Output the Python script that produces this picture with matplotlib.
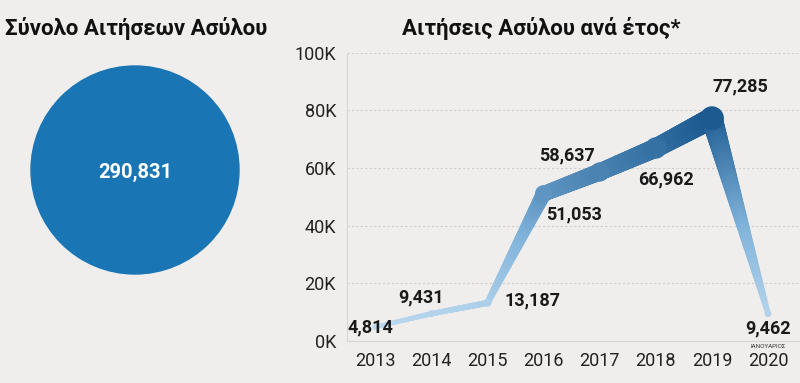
import numpy as np
import matplotlib
matplotlib.use('Agg')
import matplotlib.pyplot as plt
from matplotlib.collections import LineCollection
from matplotlib.colors import LinearSegmentedColormap
from matplotlib.patches import Circle

plt.rcParams['font.family'] = ['Roboto', 'DejaVu Sans']

# data
years = ['2013', '2014', '2015', '2016', '2017', '2018', '2019', '2020']
values = [4814, 9431, 13187, 51053, 58637, 66962, 77285, 9462]
total = 290831
yticks = [0, 20000, 40000, 60000, 80000, 100000]
ytick_labels = ['0K', '20K', '40K', '60K', '80K', '100K']

bg = '#efeeec'
fig = plt.figure(figsize=(8, 3.83), dpi=100, facecolor=bg)

# titles
fig.text(0.006, 0.925, 'Σύνολο Αιτήσεων Ασύλου', fontsize=16, fontweight='bold',
         color='#111111', ha='left', va='center')
fig.text(0.676, 0.925, 'Αιτήσεις Ασύλου ανά έτος*', fontsize=16, fontweight='bold',
         color='#111111', ha='center', va='center')

# total circle
axc = fig.add_axes([0.0, 0.0, 0.34, 1.0])
axc.set_xlim(0, 272)
axc.set_ylim(383, 0)
axc.set_aspect('equal')
axc.axis('off')
axc.add_patch(Circle((135, 170), 104, color='#1a75b4'))
axc.text(135, 172, f'{total:,}', color='white', fontsize=14.5, fontweight='bold',
         ha='center', va='center')

# yearly line
ax = fig.add_axes([0.434, 0.110, 0.566, 0.752], facecolor=bg)
x = np.arange(len(values))
v = np.array(values, dtype=float)
cmap = LinearSegmentedColormap.from_list('b', ['#c4def1', '#7fb2da', '#1c5a90'])
vmax = v.max()

segs, lws, cols = [], [], []
for i in range(len(v) - 1):
    t = np.linspace(0, 1, 60)
    xs = x[i] + t
    ys = v[i] + t * (v[i + 1] - v[i])
    for j in range(len(t) - 1):
        ym = (ys[j] + ys[j + 1]) / 2
        segs.append([(xs[j], ys[j]), (xs[j + 1], ys[j + 1])])
        lws.append((3 + 18.5 * ym / vmax) * 0.72)
        cols.append(cmap(ym / vmax))
lc = LineCollection(segs, linewidths=lws, colors=cols, capstyle='round', zorder=3)
ax.add_collection(lc)
ax.scatter(x, v, s=[((4.5 + 19.5 * a / vmax) * 0.72) ** 2 for a in v],
           c=[cmap(a / vmax) for a in v], zorder=4, linewidths=0)

# value labels
offsets = [(-5, 0, 'center', 'center'), (-10, 16, 'center', 'center'),
           (17, 2, 'left', 'center'), (2, -21, 'left', 'center'),
           (-33, 17, 'center', 'center'), (10, -31, 'center', 'center'),
           (28, 32, 'center', 'center'), (0, -15, 'center', 'center')]
for xi, vi, (dx, dy, ha, va) in zip(x, values, offsets):
    ax.annotate(f'{vi:,}', (xi, vi), xytext=(dx * 0.72, dy * 0.72),
                textcoords='offset points', ha=ha, va=va, fontsize=13,
                fontweight='bold', color='#1a1a1a', zorder=5)
ax.annotate('ΙΑΝΟΥΑΡΙΟΣ', (x[-1], 0), xytext=(0, -6 * 0.72), textcoords='offset points',
            ha='center', va='center', fontsize=4.5, color='#333333')

ax.set_xlim(-0.5, 7.57)
ax.set_ylim(0, 100000)
ax.set_xticks(x)
ax.set_xticklabels(years)
ax.set_yticks(yticks)
ax.set_yticklabels(ytick_labels)
ax.tick_params(axis='both', length=0, labelsize=13, colors='#222222')
ax.tick_params(axis='x', pad=8)
ax.tick_params(axis='y', pad=8)
ax.grid(axis='y', linestyle=(0, (2, 2)), color='#cfcfcf', linewidth=0.8)
ax.set_axisbelow(True)
for s in ['top', 'right']:
    ax.spines[s].set_visible(False)
ax.spines['left'].set_color('#d6d6d6')
ax.spines['bottom'].set_color('#d6d6d6')

fig.savefig('out.png', dpi=100, facecolor=bg)
